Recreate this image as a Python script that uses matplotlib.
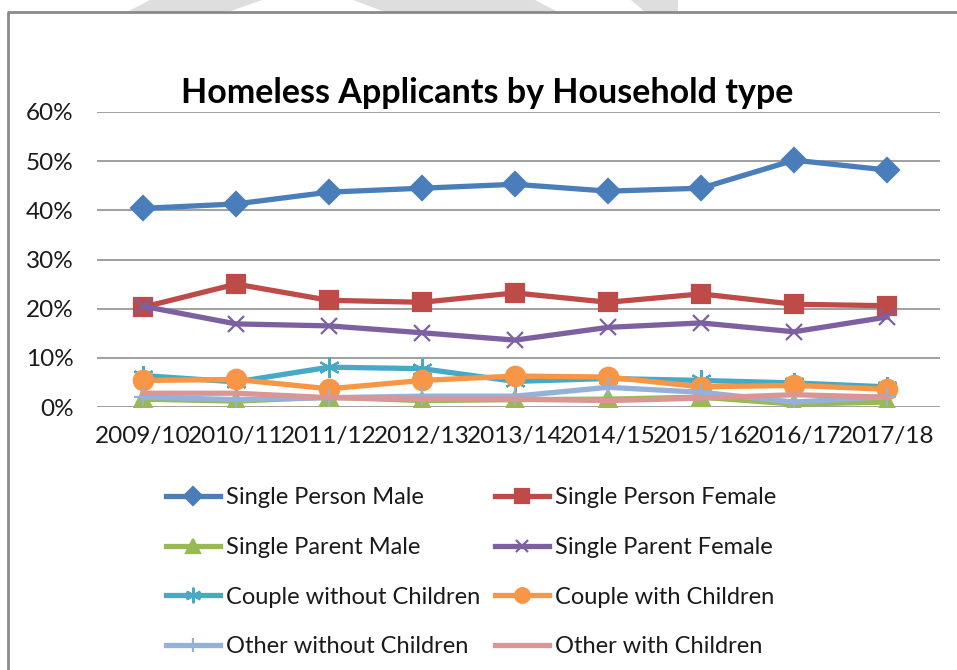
import matplotlib.pyplot as plt
from matplotlib.patches import Polygon
from matplotlib.lines import Line2D
from matplotlib.ticker import PercentFormatter

plt.rcParams['font.family'] = ['Lato', 'DejaVu Sans']

years = ['2009/10', '2010/11', '2011/12', '2012/13', '2013/14',
         '2014/15', '2015/16', '2016/17', '2017/18']

single_person_male = [40.4, 41.3, 43.7, 44.5, 45.3, 43.9, 44.5, 50.2, 48.2]
single_person_female = [20.3, 25.0, 21.7, 21.3, 23.2, 21.3, 23.0, 20.9, 20.6]
single_parent_male = [1.6, 1.2, 2.0, 1.3, 1.5, 1.6, 2.0, 0.6, 1.0]
single_parent_female = [20.5, 16.9, 16.5, 15.1, 13.6, 16.2, 17.1, 15.3, 18.3]
couple_no_children = [6.4, 5.1, 8.1, 7.8, 5.2, 5.8, 5.4, 4.9, 4.1]
couple_with_children = [5.4, 5.6, 3.7, 5.4, 6.3, 6.1, 4.1, 4.4, 3.6]
other_no_children = [2.0, 1.5, 1.9, 2.2, 2.2, 4.0, 3.0, 1.0, 2.1]
other_with_children = [2.8, 2.8, 1.9, 1.6, 1.6, 1.3, 1.8, 2.5, 2.0]

series = [
    ('Single Person Male', single_person_male, '#4A7EBB', 'D', 12),
    ('Single Person Female', single_person_female, '#BE4B48', 's', 13),
    ('Single Parent Male', single_parent_male, '#98B954', '^', 13),
    ('Single Parent Female', single_parent_female, '#7D60A0', 'x', 12),
    ('Couple without Children', couple_no_children, '#46AAC5', (6, 2, 0), 15),
    ('Couple with Children', couple_with_children, '#F79646', 'o', 14),
    ('Other without Children', other_no_children, '#95B1DA', '+', 13),
    ('Other with Children', other_with_children, '#D99694', None, 0),
]

fig = plt.figure(figsize=(9.57, 6.70), dpi=100)
fig.patch.set_facecolor('white')

# faint background shapes along the top edge
for pts in ([(127, 12), (228, 12), (262, 0), (150, 0)],
            [(385, 12), (558, 12), (535, 0), (353, 0)],
            [(645, 12), (678, 12), (678, 0), (631, 0)]):
    fig.patches.append(Polygon([(x / 957, 1 - y / 670) for x, y in pts],
                               closed=True, transform=fig.transFigure,
                               facecolor='#dedede', edgecolor='none', zorder=0))

# chart frame
fig.add_artist(Line2D([8 / 957, 8 / 957, 1.0], [0.0, 1 - 12 / 670, 1 - 12 / 670],
                      transform=fig.transFigure, color='#8a8a8a', lw=2))

ax = fig.add_axes([97 / 957, 1 - 407 / 670, (940 - 97) / 957, (407 - 112) / 670])
ax.set_facecolor('none')

x = list(range(len(years)))
for name, vals, color, marker, ms in series:
    kw = dict(color=color, lw=3.8, label=name, solid_joinstyle='round')
    if marker is not None:
        kw.update(marker=marker, markersize=ms, markerfacecolor=color,
                  markeredgecolor=color, markeredgewidth=1.6)
    ax.plot(x, vals, **kw)

ax.set_xlim(-0.495, 8.57)
ax.set_ylim(0, 60)
ax.set_yticks(range(0, 61, 10))
ax.yaxis.set_major_formatter(PercentFormatter(decimals=0))
ax.set_xticks(x)
ax.set_xticklabels(years)
ax.grid(axis='y', color='#868686', lw=1.1)
ax.set_axisbelow(True)
for s in ax.spines.values():
    s.set_visible(False)
ax.tick_params(length=0, labelsize=17.5, colors='#1a1a1a')
ax.tick_params(axis='y', pad=17)
ax.tick_params(axis='x', pad=14)

fig.text(487 / 957, 1 - 93 / 670, 'Homeless Applicants by Household type',
         ha='center', va='center', fontsize=24.5, fontweight='bold', color='black')

# legend filled row by row: two entries per row
handles, labels = ax.get_legend_handles_labels()
order = [0, 2, 4, 6, 1, 3, 5, 7]
fig.legend([handles[i] for i in order], [labels[i] for i in order],
           ncol=2, loc='upper left', bbox_to_anchor=(166 / 957, 1 - 487 / 670),
           frameon=False, borderaxespad=0, borderpad=0,
           fontsize=17, handlelength=2.3, handletextpad=0.25, markerscale=0.75,
           columnspacing=0.6, labelspacing=1.22, labelcolor='#1a1a1a')

fig.savefig('out.png', dpi=100, facecolor='white')
